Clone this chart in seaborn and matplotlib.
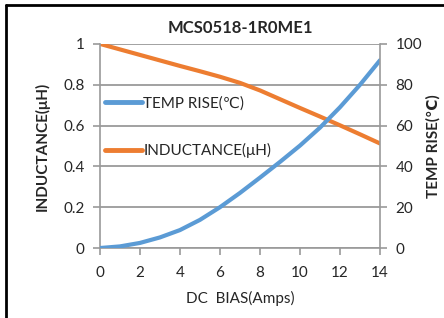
import matplotlib
matplotlib.use("Agg")
import matplotlib.pyplot as plt
import seaborn as sns
import pandas as pd
from matplotlib.lines import Line2D

# Data
dc_bias = [0, 1, 2, 3, 4, 5, 6, 7, 8, 9, 10, 11, 12, 13, 14]
temp_rise = [0, 0.8, 2.5, 5.2, 8.8, 13.8, 20, 27, 34.5, 42.2, 50.2, 59, 69, 80, 92]
inductance = [1.0, 0.973, 0.946, 0.919, 0.892, 0.866, 0.839, 0.809, 0.772, 0.729, 0.686, 0.644, 0.601, 0.557, 0.512]
ind_ticks = [0, 0.2, 0.4, 0.6, 0.8, 1]
ind_labels = ["0", "0.2", "0.4", "0.6", "0.8", "1"]
temp_ticks = [0, 20, 40, 60, 80, 100]
bias_ticks = [0, 2, 4, 6, 8, 10, 12, 14]

df = pd.DataFrame({"bias": dc_bias, "temp": temp_rise, "ind": inductance})

sns.set_theme(style="white")
plt.rcParams['font.family'] = ['Lato', 'DejaVu Sans']

blue = "#5B9BD5"
orange = "#ED7D31"
grid_c = "#9A9A9A"
fs = 11

fig = plt.figure(figsize=(4.44, 3.18), dpi=100)
ax = fig.add_axes([0.225, 0.22, 0.631, 0.642])

sns.lineplot(data=df, x="bias", y="ind", ax=ax, color=orange, linewidth=3, legend=False)
ax.set_xlim(0, 14)
ax.set_ylim(0, 1)
ax.set_xticks(bias_ticks)
ax.set_yticks(ind_ticks)
ax.set_yticklabels(ind_labels)
ax.grid(True, axis='y', color=grid_c, linewidth=1.3)
ax.set_axisbelow(True)

ax2 = ax.twinx()
sns.lineplot(data=df, x="bias", y="temp", ax=ax2, color=blue, linewidth=3, legend=False)
ax2.set_ylim(0, 100)
ax2.set_yticks(temp_ticks)
ax2.grid(False)

for a in (ax, ax2):
    for s in a.spines.values():
        s.set_visible(False)
ax.spines['left'].set_visible(True)
ax.spines['bottom'].set_visible(True)
ax2.spines['right'].set_visible(True)
for s in (ax.spines['left'], ax.spines['bottom'], ax2.spines['right']):
    s.set_color(grid_c)
    s.set_linewidth(1.2)

ax.tick_params(axis='both', direction='out', length=5, width=1.2, color=grid_c, labelsize=fs, left=True, bottom=True)
ax.tick_params(axis='x', pad=8)
ax.tick_params(axis='y', pad=6)
ax2.tick_params(axis='y', direction='out', length=5, width=1.2, color=grid_c, labelsize=fs, pad=6, right=True)

ax.set_xlabel("DC  BIAS(Amps)", fontsize=fs, labelpad=8)
ax.set_ylabel("INDUCTANCE(\u03bcH)", fontsize=fs, fontweight='bold', labelpad=10)
ax2.set_ylabel("TEMP RISE(\u2103)", fontsize=fs, fontweight='bold', labelpad=3)
ax.set_title("MCS0518-1R0ME1", fontsize=12, fontweight='bold', pad=8)

handles = [Line2D([0], [0], color=blue, lw=3.5), Line2D([0], [0], color=orange, lw=3.5)]
ax.legend(handles, ["TEMP RISE(\u2103)", "INDUCTANCE(\u03bcH)"], loc='upper left',
          bbox_to_anchor=(0.018, 0.745), frameon=False, fontsize=fs,
          handlelength=2.4, handletextpad=0.1, labelspacing=2.15, borderpad=0, borderaxespad=0)

# outer frame (top and left edges only, as in the reference)
fig.add_artist(Line2D([5.5 / 444, 5.5 / 444], [0, 1 - 4.5 / 318], color="black", lw=2, transform=fig.transFigure))
fig.add_artist(Line2D([5.5 / 444, 1], [1 - 4.5 / 318, 1 - 4.5 / 318], color="black", lw=2, transform=fig.transFigure))

fig.savefig("out.png", dpi=100)
